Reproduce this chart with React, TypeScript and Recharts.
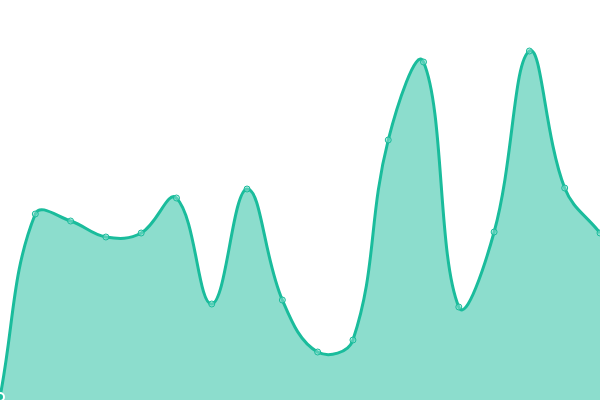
import React from 'react';
import { AreaChart, Area, XAxis, YAxis } from 'recharts';

const labels = ['1', '2', '3', '4', '5', '6', '7', '8', '9', '10', '11', '12', '13', '14', '15', '16', '17', '18'];
const values = [3, 186, 179, 163, 167, 202, 96, 211, 100, 48, 60, 260, 338, 93, 168, 349, 212, 167];

const data = labels.map((name, i) => ({ name, value: values[i] }));

// distance-weighted spline (tension 0.4), passes through every point
function splineCurve(context: any) {
  const t = 0.4;
  let pts: [number, number][] = [];
  let line = NaN;
  const dist = (a: [number, number], b: [number, number]) => Math.hypot(b[0] - a[0], b[1] - a[1]);

  return {
    areaStart() { line = 0; },
    areaEnd() { line = NaN; },
    lineStart() { pts = []; },
    lineEnd() {
      const n = pts.length;
      if (n) {
        const [sx, sy] = pts[0];
        if (line) context.lineTo(sx, sy); else context.moveTo(sx, sy);
        const cps = pts.map((p, i) => {
          const prev = pts[i - 1] || p;
          const next = pts[i + 1] || p;
          const d01 = dist(prev, p);
          const d12 = dist(p, next);
          let s01 = d01 / (d01 + d12);
          let s12 = d12 / (d01 + d12);
          if (!isFinite(s01)) s01 = 0;
          if (!isFinite(s12)) s12 = 0;
          const fa = t * s01;
          const fb = t * s12;
          return {
            px: p[0] - fa * (next[0] - prev[0]),
            py: p[1] - fa * (next[1] - prev[1]),
            nx: p[0] + fb * (next[0] - prev[0]),
            ny: p[1] + fb * (next[1] - prev[1]),
          };
        });
        for (let i = 1; i < n; i++) {
          context.bezierCurveTo(cps[i - 1].nx, cps[i - 1].ny, cps[i].px, cps[i].py, pts[i][0], pts[i][1]);
        }
      }
      if (line || (line !== 0 && n === 1)) context.closePath();
      line = 1 - line;
    },
    point(x: number, y: number) { pts.push([+x, +y]); },
  };
}

export default function App() {
  return (
    <div style={{ position: 'absolute', left: 0, top: 0 }}>
      <AreaChart width={600} height={400} data={data} margin={{ top: 0, right: 0, bottom: 0, left: 0 }}>
        <XAxis dataKey="name" hide />
        <YAxis hide domain={[0, 400]} />
        <Area
          dataKey="value"
          type={splineCurve as any}
          stroke="#1abc9c"
          strokeWidth={3}
          fill="#1abc9c"
          fillOpacity={0.5}
          dot={{ r: 3, fill: '#8ce0d0', stroke: '#1abc9c', strokeWidth: 1 }}
          isAnimationActive={false}
        />
      </AreaChart>
    </div>
  );
}
